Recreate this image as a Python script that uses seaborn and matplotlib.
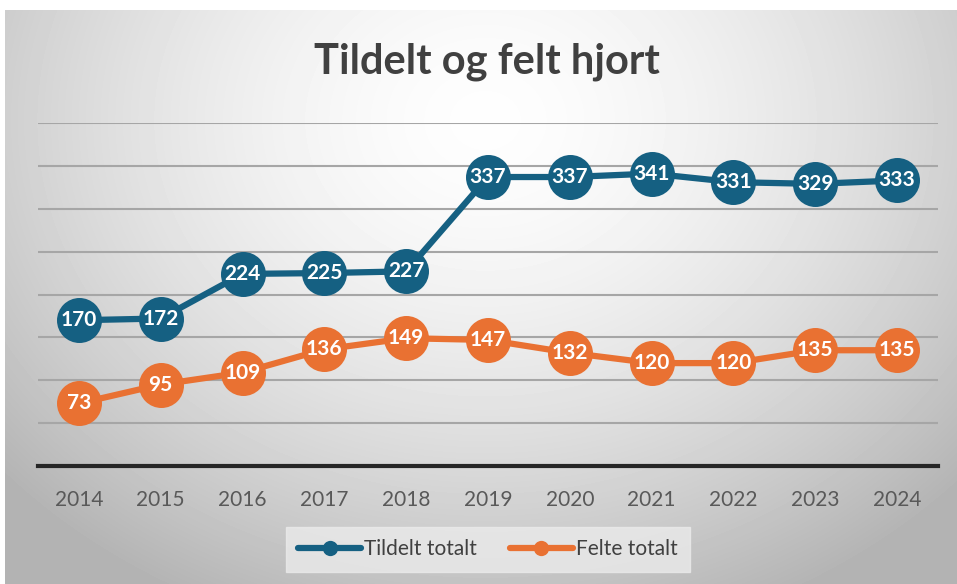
import numpy as np
import pandas as pd
import matplotlib
matplotlib.use("Agg")
import matplotlib.pyplot as plt
import seaborn as sns

years = [2014, 2015, 2016, 2017, 2018, 2019, 2020, 2021, 2022, 2023, 2024]
tildelt = [170, 172, 224, 225, 227, 337, 337, 341, 331, 329, 333]
felt = [73, 95, 109, 136, 149, 147, 132, 120, 120, 135, 135]
series_names = ["Tildelt totalt", "Felte totalt"]
series_colors = ["#156082", "#E97132"]

sns.set_theme(style="white")
plain = ["Lato", "DejaVu Sans"]

df = pd.DataFrame({
    "year": years * 2,
    "value": tildelt + felt,
    "serie": [series_names[0]] * len(years) + [series_names[1]] * len(years),
})

fig = plt.figure(figsize=(9.57, 5.84), dpi=100, facecolor="white")

# radial grey background of the chart area
bg = fig.add_axes([5 / 957, 0, 952 / 957, 574 / 584], zorder=-10)
h, w = 574, 952
yy, xx = np.mgrid[0:h, 0:w]
r = np.sqrt(((xx - 480) / 600) ** 2 + ((yy - 110) / 500) ** 2)
shade = np.clip(0.995 - 0.26 * r ** 1.6, 0.7, 1.0)
bg.imshow(shade, cmap="gray", vmin=0, vmax=1, aspect="auto", interpolation="bilinear")
bg.axis("off")

ax = fig.add_axes([38 / 957, (584 - 466) / 584, 900 / 957, 343 / 584])
ax.patch.set_alpha(0)

for name, color in zip(series_names, series_colors):
    sub = df[df["serie"] == name]
    sns.lineplot(data=sub, x="year", y="value", ax=ax, color=color, linewidth=4.5,
                 marker="o", markersize=11, markeredgewidth=0, label=name, zorder=3)
    sns.scatterplot(data=sub, x="year", y="value", ax=ax, color=color, s=1050,
                    linewidth=0, zorder=4, legend=False)
    for x, v in zip(sub["year"], sub["value"]):
        ax.text(x, v, str(v), ha="center", va="center", color="white",
                fontsize=15, fontweight="bold", family=plain, zorder=5)

ax.set_xlim(2013.5, 2024.5)
ax.set_ylim(0, 400)
ax.set_yticks(range(50, 401, 50))
ax.set_yticklabels([])
ax.tick_params(axis="y", length=0)
ax.grid(axis="y", color="#a6a6a6", linewidth=1.5)
ax.grid(axis="x", visible=False)
ax.set_xticks(years)
ax.set_xticklabels([str(y) for y in years], family=plain, fontsize=15, color="#595959")
ax.tick_params(axis="x", length=0, pad=17)
ax.set_xlabel("")
ax.set_ylabel("")
for s in ["top", "left", "right"]:
    ax.spines[s].set_visible(False)
ax.spines["bottom"].set_color("#262626")
ax.spines["bottom"].set_linewidth(3)

handles, labels = ax.get_legend_handles_labels()
leg = ax.legend(handles, labels, loc="center", bbox_to_anchor=(488 / 957, 1 - 549 / 584),
                bbox_transform=fig.transFigure, ncol=2, frameon=True, fancybox=False,
                prop={"family": plain, "size": 15}, handlelength=3.0, columnspacing=1.6,
                borderpad=0.6, handletextpad=0.15, borderaxespad=0)
leg.get_frame().set_facecolor("#ebebeb")
leg.get_frame().set_edgecolor("#ebebeb")
for t in leg.get_texts():
    t.set_color("#404040")

fig.text(487 / 957, 1 - 62 / 584, "Tildelt og felt hjort", ha="center", va="center",
         family=plain, fontsize=30, fontweight="bold", color="#404040")

fig.savefig("out.png", dpi=100, facecolor="white")
